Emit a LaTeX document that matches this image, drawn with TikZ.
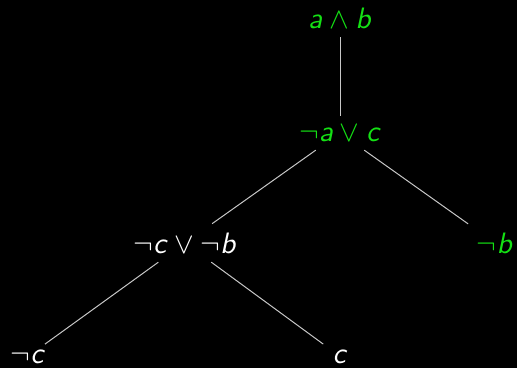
\documentclass[tikz,border=0pt]{standalone}
\usepackage{xcolor}
\usepackage{tikz}
\usetikzlibrary{positioning}

\definecolor{litgreen}{RGB}{20,225,20}
\newcommand{\sv}[1]{\textsf{\textit{#1}}}

\begin{document}
\begin{tikzpicture}[x=1pt,y=1pt]
\tikzstyle{term} = [text=white, inner sep=2.8pt, anchor=base, scale=2.95, transform shape]
\tikzstyle{goal} = [term, text=litgreen]
\tikzstyle{leaf} = [term, inner ysep=0.6pt]
\tikzstyle{edge} = [draw=white!78!black, line width=1pt]

\fill[black] (0,0) rectangle (517,368);
\useasboundingbox (0,0) rectangle (517,368);

\node (top) [goal] at (340,340) {$\sv{a}\wedge\sv{b}$};
\node (mid) [goal] at (340,227) {$\neg\sv{a}\vee\sv{c}$};
\node (left) [term] at (185,115) {$\neg\sv{c}\vee\neg\sv{b}$};
\node (negb) [goal] at (495,115) {$\neg\sv{b}$};
\node (negc) [leaf] at (28,5) {$\neg\sv{c}$};
\node (c) [leaf] at (340,5) {$\sv{c}$};

\draw [edge] (top) -- (mid);
\draw [edge] (mid) -- (left);
\draw [edge] (mid) -- (negb);
\draw [edge, shorten >=5pt] (left) -- (negc);
\draw [edge, shorten >=5pt] (left) -- (c);
\end{tikzpicture}
\end{document}
